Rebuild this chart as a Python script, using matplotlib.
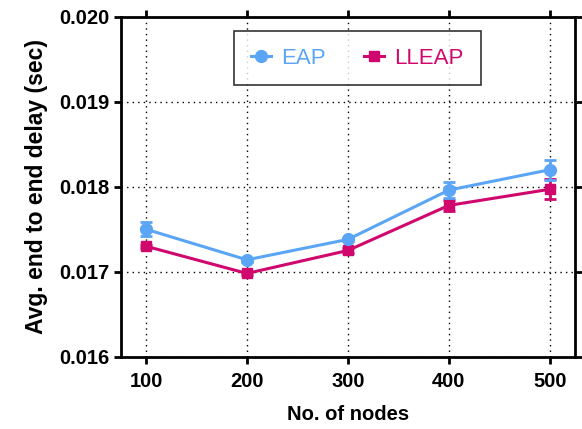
import matplotlib
matplotlib.use('Agg')
import matplotlib.pyplot as plt
from matplotlib.lines import Line2D

plt.rcParams['font.family'] = ['Liberation Sans', 'DejaVu Sans']

## delay data per node count
nodes = [100, 200, 300, 400, 500]
eap_delay = [0.01750, 0.01714, 0.01738, 0.01796, 0.01820]
eap_err = [0.00008, 0.00002, 0.00002, 0.00009, 0.00012]
lleap_delay = [0.01730, 0.01698, 0.01725, 0.01778, 0.01797]
lleap_err = [0.00002, 0.00002, 0.00003, 0.00006, 0.00012]

c_eap = '#5aa5f5'
c_lleap = '#d0086e'

fig = plt.figure(figsize=(5.82, 4.29), dpi=100)
ax = fig.add_axes([0.2074, 0.1685, 0.7806, 0.7925])

ax.errorbar(nodes, eap_delay, yerr=eap_err, color=c_eap, lw=2.2, marker='o',
            markersize=8.5, capsize=4.5, capthick=2, elinewidth=2, zorder=4)
ax.errorbar(nodes, lleap_delay, yerr=lleap_err, color=c_lleap, lw=2.2, marker='s',
            markersize=7, capsize=4.5, capthick=2, elinewidth=2, zorder=3)

ax.set_xlim(75, 525)
ax.set_ylim(0.016, 0.020)
ax.set_xticks(nodes)
ax.set_yticks([0.016, 0.017, 0.018, 0.019, 0.020])
ax.set_yticklabels(['0.016', '0.017', '0.018', '0.019', '0.020'])
ax.grid(True, color='black', linestyle=(0, (1, 3)), linewidth=1.0)

for sp in ax.spines.values():
    sp.set_linewidth(2)
ax.tick_params(direction='out', length=5, width=2, top=True, right=True,
               labeltop=False, labelright=False, labelsize=14.5)
ax.tick_params(axis='y', pad=3)
ax.tick_params(axis='x', pad=6)
for lab in ax.get_xticklabels() + ax.get_yticklabels():
    lab.set_fontweight('bold')

ax.set_xlabel('No. of nodes', fontsize=14.5, fontweight='bold', labelpad=10)
ax.set_ylabel('Avg. end to end delay (sec)', fontsize=16.5, fontweight='bold', labelpad=8)

## legend handles: marker on short line, no error bars
handles = [Line2D([], [], color=c_eap, lw=2.2, marker='o', markersize=8.5),
           Line2D([], [], color=c_lleap, lw=2.2, marker='s', markersize=7)]
leg = ax.legend(handles, ['EAP', 'LLEAP'], loc='upper center', bbox_to_anchor=(0.521, 0.958),
                ncol=2, fontsize=16, frameon=True, fancybox=False, edgecolor='black',
                handlelength=0.9, handletextpad=0.45, columnspacing=1.75, borderpad=0.75,
                labelcolor='linecolor', borderaxespad=0)
leg.get_frame().set_linewidth(1.2)

fig.savefig('out.png', dpi=100)
